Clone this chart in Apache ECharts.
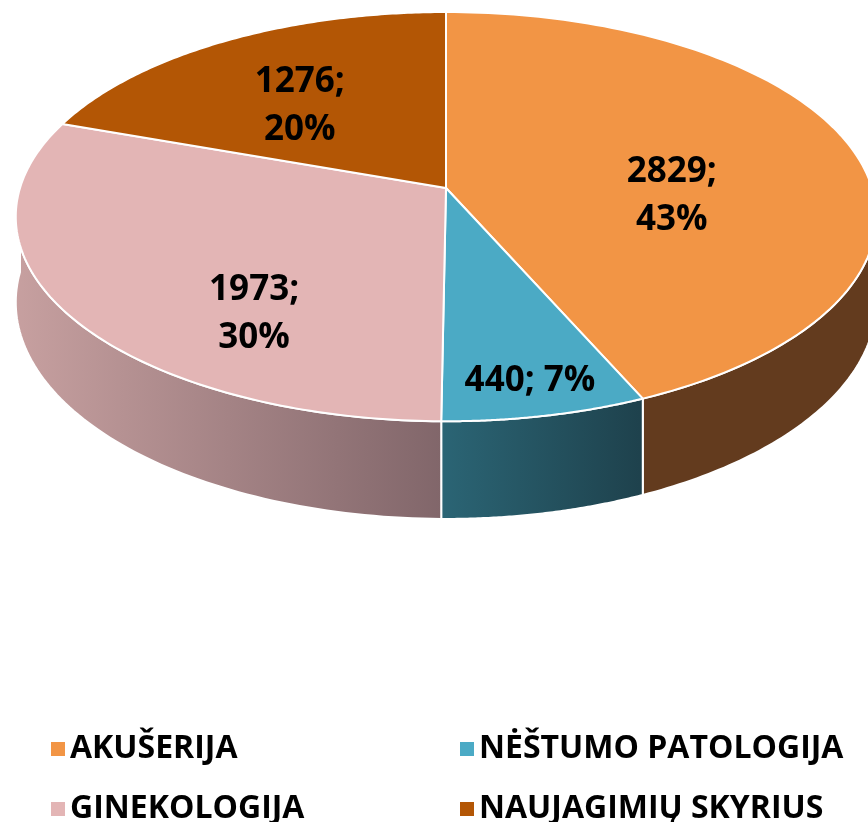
<!DOCTYPE html>
<html>
<head>
<meta charset="utf-8">
<script src="https://cdn.jsdelivr.net/npm/echarts@6/dist/echarts.min.js"></script>
<style>
  html, body { margin: 0; padding: 0; background: #fff; }
  #chart { width: 868px; height: 822px; }
</style>
</head>
<body>
<div id="chart"></div>
<script>
/* Skyriai 3D pie */

var categories = ['AKUŠERIJA', 'NĖŠTUMO PATOLOGIJA', 'GINEKOLOGIJA', 'NAUJAGIMIŲ SKYRIUS'];
var values = [2829, 440, 1973, 1276];
var topColors = ['#F29545', '#4BAAC5', '#E3B5B5', '#B35605'];
var sideColors = [['#633B1E', '#633B1E'], ['#2B6575', '#1E414C'], ['#C7A0A0', '#81666A'], ['#6E3405', '#6E3405']];
var labelWrap = [true, false, true, true];

// projection of the tilted disc (perspective), and label nudges
var pie = { cx: 446, cy: 188, rx: 426, ry: 200.6, k: 0.14, depth: 84 };
var labelShift = [[0, 30], [33, 76], [9, 60], [-19, 3]];

var total = values.reduce(function (a, b) { return a + b; }, 0);
var starts = [], ends = [];
var acc = 0;
values.forEach(function (v) {
	starts.push(acc / total * Math.PI * 2);
	acc += v;
	ends.push(acc / total * Math.PI * 2);
});

function project(t, h, r) {
	r = r === undefined ? 1 : r;
	var u = r * Math.sin(t), v = -r * Math.cos(t);
	var f = 1 / (1 - pie.k * v);
	return [pie.cx + pie.rx * u * f, pie.cy + (pie.ry * v + h) * f];
}

function topItem(i) {
	return function (params, api) {
		var a0 = starts[i], a1 = ends[i];
		var pts = [[pie.cx, pie.cy]];
		for (var s = 0; s <= 120; s++) {
			pts.push(project(a0 + (a1 - a0) * s / 120, 0));
		}
		var lp = project((a0 + a1) / 2, 0, 0.55);
		var pct = Math.round(values[i] / total * 100);
		var txt = values[i] + ';' + (labelWrap[i] ? '\n' : ' ') + pct + '%';
		return {
			type: 'group',
			children: [
				{ type: 'polygon', shape: { points: pts },
				  style: { fill: topColors[i], stroke: '#fff', lineWidth: 2, lineJoin: 'round' } },
				{ type: 'text', x: lp[0] + labelShift[i][0], y: lp[1] + labelShift[i][1], z2: 10,
				  style: { text: txt, fill: '#000', font: 'bold 35px "Open Sans"',
				           textAlign: 'center', textVerticalAlign: 'middle', lineHeight: 48 } }
			]
		};
	};
}

function sideItem(params, api) {
	var i = params.dataIndex;
	var b0 = Math.max(starts[i], Math.PI / 2), b1 = Math.min(ends[i], Math.PI * 1.5);
	if (b1 <= b0) return { type: 'group', children: [] };
	var pts = [];
	for (var s = 0; s <= 80; s++) pts.push(project(b0 + (b1 - b0) * s / 80, 0));
	for (var s2 = 80; s2 >= 0; s2--) pts.push(project(b0 + (b1 - b0) * s2 / 80, pie.depth));
	return {
		type: 'polygon',
		shape: { points: pts },
		style: {
			fill: new echarts.graphic.LinearGradient(0, 0, 1, 0, [
				{ offset: 0, color: sideColors[i][0] },
				{ offset: 1, color: sideColors[i][1] }
			]),
			stroke: '#fff', lineWidth: 2
		}
	};
}

var series = [{
	name: 'sides',
	type: 'custom',
	coordinateSystem: 'none',
	z: 1,
	silent: true,
	data: values.map(function (v, i) { return [i, v]; }),
	renderItem: sideItem
}];
categories.forEach(function (c, i) {
	series.push({
		name: c,
		type: 'custom',
		coordinateSystem: 'none',
		z: 2,
		itemStyle: { color: topColors[i] },
		data: [[i, values[i]]],
		renderItem: topItem(i)
	});
});

var legendText = { fontFamily: 'Open Sans', fontWeight: 'bold', fontSize: 32, color: '#000', lineHeight: 34 };

var chart = echarts.init(document.getElementById('chart'));
chart.setOption({
	animation: false,
	legend: [{
		data: [categories[0], categories[2]],
		orient: 'vertical', left: 46, top: 727, height: 95,
		icon: 'rect', itemWidth: 14, itemHeight: 14, itemGap: 26, itemTextGap: 10,
		textStyle: legendText, selectedMode: false
	}, {
		data: [categories[1], categories[3]],
		orient: 'vertical', left: 455, top: 727, height: 95,
		icon: 'rect', itemWidth: 14, itemHeight: 14, itemGap: 26, itemTextGap: 10,
		textStyle: legendText, selectedMode: false
	}],
	series: series
});
</script>
</body>
</html>
